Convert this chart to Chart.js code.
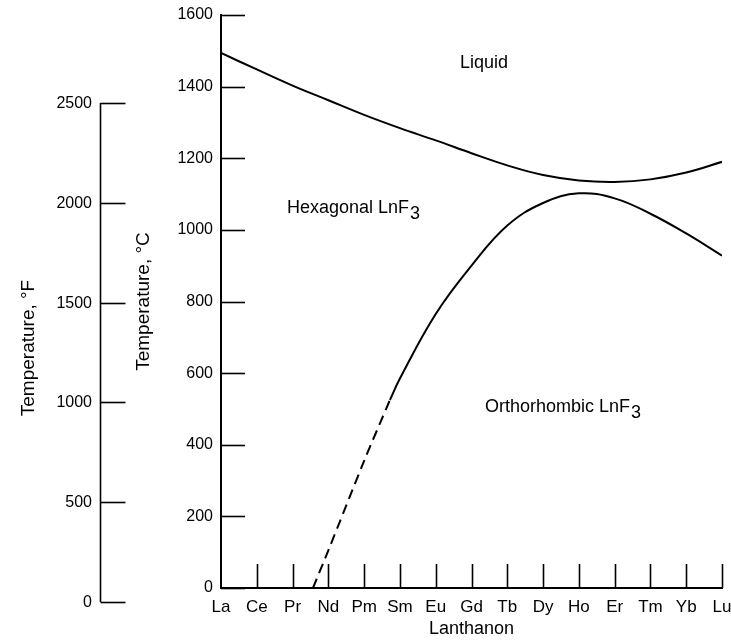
<!DOCTYPE html>
<html>
<head>
<meta charset="utf-8">
<script src="https://cdn.jsdelivr.net/npm/chart.js@4.4.1/dist/chart.umd.min.js"></script>
<style>
html,body{margin:0;padding:0;background:#fff;}
</style>
</head>
<body>
<canvas id="mycanvas" width="731" height="640"></canvas>
<script>
// lanthanons along the bottom
var elements = ['La','Ce','Pr','Nd','Pm','Sm','Eu','Gd','Tb','Dy','Ho','Er','Tm','Yb','Lu'];
// melting curve, deg C, one per element
var liquidus = [1494,1448,1403,1362,1321,1284,1250,1214,1180,1153,1138,1134,1141,1160,1190];
// hexagonal/orthorhombic transition, dashed (estimated) part
var dashX = [2.57, 3, 4, 4.72];
var dashC = [0, 105, 355, 525];
// transition, solid part
var solidX = [4.72, 5, 6, 7, 8, 9, 10, 11, 12, 13, 14];
var solidC = [525, 585, 765, 900, 1012, 1075, 1102, 1088, 1045, 990, 928];
// axis ticks
var cTicks = [0,200,400,600,800,1000,1200,1400,1600];
var fTicks = [0,500,1000,1500,2000,2500];

var FONT = "'Liberation Sans', Arial, sans-serif";
Chart.defaults.font.family = FONT;
Chart.defaults.color = '#000';

function pts(xs, ys){
	var out = [];
	for(var i in xs){
		out.push({x: xs[i], y: ys[i]});
	}
	return out;
}

var liqData = [];
for(var i in liquidus){
	liqData.push({x: Number(i), y: liquidus[i]});
}

function noPad(s){
	s.paddingLeft = 0; s.paddingRight = 0;
	s.paddingTop = 0; s.paddingBottom = 0;
}

var extras = {
	id: 'extras',
	afterDraw: function(chart){
		var ctx = chart.ctx;
		var xs = chart.scales.x, ys = chart.scales.y, fs = chart.scales.yF;
		var left = chart.chartArea.left, bottom = chart.chartArea.bottom;
		ctx.save();
		ctx.strokeStyle = '#000';
		ctx.fillStyle = '#000';
		ctx.lineWidth = 1.6;
		// inner ticks on deg C axis
		for(var i in cTicks){
			var py = Math.round(ys.getPixelForValue(cTicks[i])) + 0.5;
			ctx.beginPath(); ctx.moveTo(left, py); ctx.lineTo(left + 24, py); ctx.stroke();
		}
		// inner ticks on lanthanon axis
		for(var j = 1; j < elements.length; j++){
			var px = Math.round(xs.getPixelForValue(j)) + 0.5;
			ctx.beginPath(); ctx.moveTo(px, bottom); ctx.lineTo(px, bottom - 24); ctx.stroke();
		}
		// deg F axis
		var fx = 100.5;
		ctx.beginPath();
		ctx.moveTo(fx, fs.getPixelForValue(2500));
		ctx.lineTo(fx, fs.getPixelForValue(0));
		ctx.stroke();
		ctx.font = '16px ' + FONT;
		ctx.textAlign = 'right';
		ctx.textBaseline = 'middle';
		for(var k in fTicks){
			var fy = Math.round(fs.getPixelForValue(fTicks[k])) + 0.5;
			ctx.beginPath(); ctx.moveTo(fx, fy); ctx.lineTo(fx + 25, fy); ctx.stroke();
			ctx.fillText(String(fTicks[k]), 92, fy);
		}
		ctx.save();
		ctx.translate(29, 348);
		ctx.rotate(-Math.PI / 2);
		ctx.textAlign = 'center';
		ctx.font = '19px ' + FONT;
		ctx.fillText('Temperature, \u00B0F', 0, 0);
		ctx.restore();
		// region labels
		ctx.textAlign = 'left';
		ctx.textBaseline = 'alphabetic';
		ctx.font = '18px ' + FONT;
		ctx.fillText('Liquid', 460, 68);
		var t1 = 'Hexagonal LnF';
		ctx.fillText(t1, 287, 213);
		var w1 = ctx.measureText(t1).width;
		ctx.fillText('3', 287 + w1 + 1, 219);
		var t2 = 'Orthorhombic LnF';
		ctx.fillText(t2, 485, 412);
		var w2 = ctx.measureText(t2).width;
		ctx.fillText('3', 485 + w2 + 1, 418);
		ctx.restore();
	}
};

var chartdata = {
	datasets: [
		{ label: 'liquidus', data: liqData, borderColor: '#000', borderWidth: 2, pointRadius: 0, tension: 0.4, fill: false },
		{ label: 'transition estimated', data: pts(dashX, dashC), borderColor: '#000', borderWidth: 2, borderDash: [10, 6], pointRadius: 0, tension: 0.3, fill: false },
		{ label: 'transition', data: pts(solidX, solidC), borderColor: '#000', borderWidth: 2, pointRadius: 0, tension: 0.4, fill: false }
	]
};

var ctx = document.getElementById('mycanvas');
var graph = new Chart(ctx, {
	type: 'line',
	data: chartdata,
	plugins: [extras],
	options: {
		responsive: false,
		animation: false,
		layout: { padding: { left: 130, right: 9, top: 15, bottom: 0 } },
		plugins: { legend: { display: false }, tooltip: { enabled: false } },
		scales: {
			x: {
				type: 'linear', min: 0, max: 14,
				grid: { display: false, drawTicks: false },
				border: { display: true, color: '#000', width: 2 },
				ticks: {
					stepSize: 1, autoSkip: false, maxRotation: 0, padding: 9,
					font: { size: 17 },
					callback: function(v){ return elements[v]; }
				},
				title: { display: true, text: 'Lanthanon', font: { size: 18 }, padding: { top: 0, bottom: 0 } },
				afterFit: function(s){ s.height = 52; noPad(s); }
			},
			y: {
				type: 'linear', position: 'left', min: 0, max: 1600,
				grid: { display: false, drawTicks: false },
				border: { display: true, color: '#000', width: 2 },
				ticks: {
					stepSize: 200, padding: 8, font: { size: 16 },
					callback: function(v){ return String(v); }
				},
				title: { display: true, text: 'Temperature, \u00B0C', font: { size: 19 }, padding: { top: 2, bottom: 0 } },
				afterFit: function(s){ s.width = 91; noPad(s); }
			},
			yF: {
				type: 'linear', display: false, position: 'left', min: 70, max: 2941
			}
		}
	}
});
</script>
</body>
</html>
